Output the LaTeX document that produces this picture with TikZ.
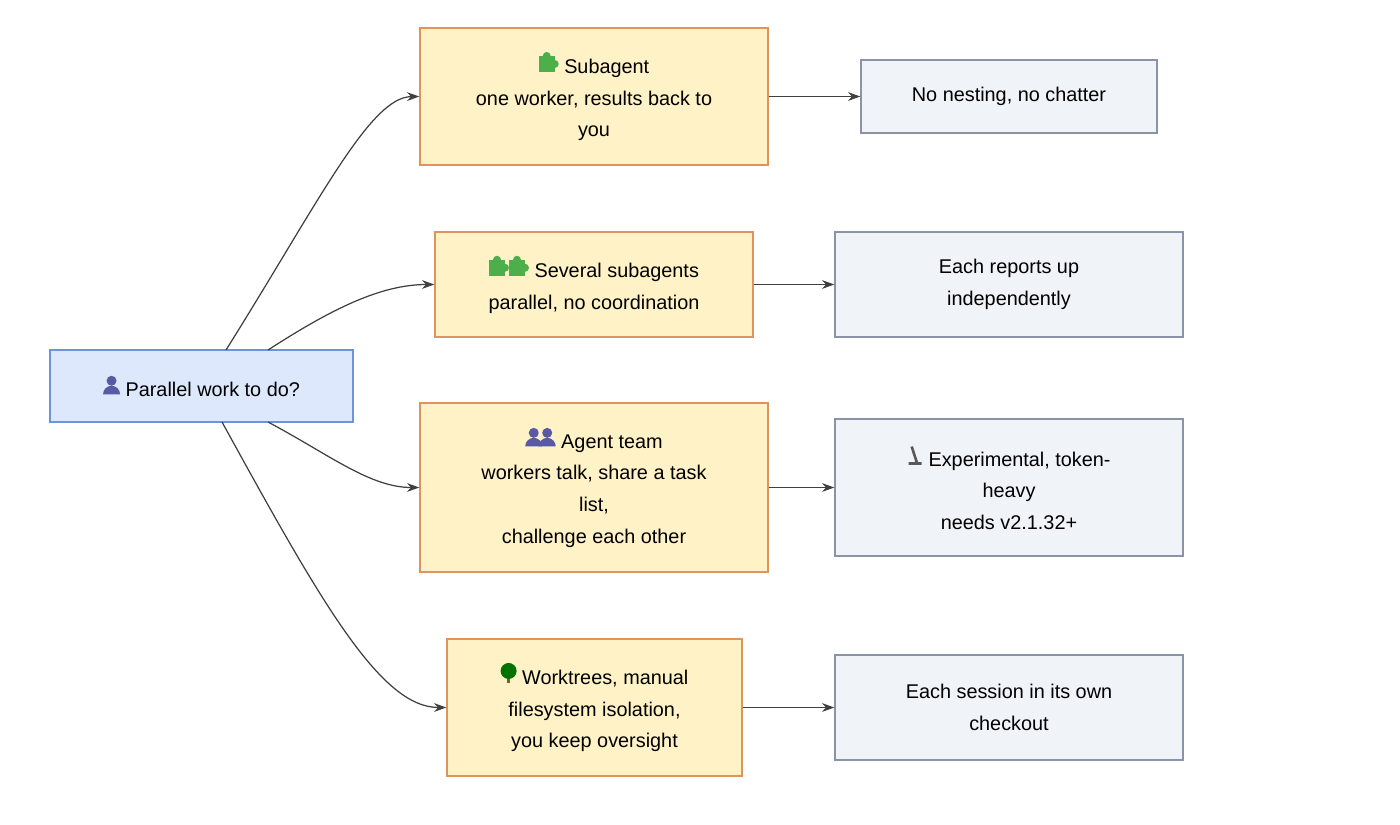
\documentclass[tikz,border=0pt]{standalone}
\usepackage{fontspec}
\setmainfont{Liberation Sans}
\usetikzlibrary{arrows.meta}

% small icons standing in for the emoji
\tikzset{icon/.style={x=1cm, y=1cm, baseline=-1pt}}
\newcommand{\pzl}{\tikz[icon]{\fill[green!55!black!70] (0,0) rectangle (0.32,0.32);
  \fill[green!55!black!70] (0.16,0.32) circle (0.08); \fill[green!55!black!70] (0.32,0.16) circle (0.08);}}
\newcommand{\usr}{\tikz[icon]{\fill[gray!70!blue] (0.17,0.27) circle (0.1);
  \fill[gray!70!blue] (0,0) arc (180:0:0.17) -- cycle;}}
\newcommand{\usrs}{\usr\hspace{-2pt}\usr}
\newcommand{\scp}{\tikz[icon]{\draw[gray!70!black,line width=1.5pt] (0.06,0.02) -- (0.32,0.02) (0.22,0.05) -- (0.12,0.36);}}
\newcommand{\tre}{\tikz[icon]{\fill[brown!70!black] (0.15,0) rectangle (0.21,0.15);
  \fill[green!45!black] (0.18,0.24) circle (0.16);}}

\definecolor{boxA}{HTML}{FFF2C7}
\definecolor{lineA}{HTML}{E0935A}
\definecolor{boxB}{HTML}{DDE8FC}
\definecolor{lineB}{HTML}{6E93DC}
\definecolor{boxC}{HTML}{F0F3F8}
\definecolor{lineC}{HTML}{8A94A6}

\begin{document}
\begin{tikzpicture}[x=0.02cm,y=-0.02cm,
    font=\fontsize{11.3}{18}\selectfont,
    base/.style={draw, line width=0.8pt, align=center, inner sep=0pt},
    choice/.style={base, fill=boxA, draw=lineA},
    start/.style={base, fill=boxB, draw=lineB},
    result/.style={base, fill=boxC, draw=lineC},
    link/.style={draw=black!75, line width=0.7pt, -{Stealth[length=7pt,width=5pt]}}]

  \useasboundingbox (0,0) rectangle (1400,825);

  % start
  \node[start, minimum width=303*0.02cm, minimum height=72*0.02cm] (ask) at (201.5,386) {\usr\ Parallel work to do?};

  % options
  \node[choice, minimum width=348*0.02cm, minimum height=137*0.02cm] (sub) at (594,96.5)
    {\pzl\ Subagent\\one worker, results back to\\you};
  \node[choice, minimum width=318*0.02cm, minimum height=105*0.02cm] (many) at (594,284.5)
    {\pzl\pzl\ Several subagents\\parallel, no coordination};
  \node[choice, minimum width=348*0.02cm, minimum height=169*0.02cm] (team) at (594,487.5)
    {\usrs\ Agent team\\workers talk, share a task\\list,\\challenge each other};
  \node[choice, minimum width=295*0.02cm, minimum height=137*0.02cm] (tree) at (594.5,707.5)
    {\tre\ Worktrees, manual\\filesystem isolation,\\you keep oversight};

  % outcomes
  \node[result, minimum width=296*0.02cm, minimum height=73*0.02cm] (nonest) at (1009,96.5) {No nesting, no chatter};
  \node[result, minimum width=348*0.02cm, minimum height=105*0.02cm] (report) at (1009,284.5) {Each reports up\\independently};
  \node[result, minimum width=348*0.02cm, minimum height=137*0.02cm] (exp) at (1009,487.5)
    {\scp\ Experimental, token-\\heavy\\needs v2.1.32+};
  \node[result, minimum width=348*0.02cm, minimum height=105*0.02cm] (sess) at (1009,707.5) {Each session in its own\\checkout};

  % connectors
  \coordinate (ask1) at (226,350);
  \coordinate (ask2) at (268,350);
  \coordinate (ask3) at (268,422);
  \coordinate (ask4) at (222,422);
  \draw[link] (ask1) .. controls (320,200) and (370,97) .. (sub.west);
  \draw[link] (ask2) .. controls (330,310) and (380,284.5) .. (many.west);
  \draw[link] (ask3) .. controls (330,455) and (370,487.5) .. (team.west);
  \draw[link] (ask4) .. controls (320,600) and (380,707.5) .. (tree.west);
  \draw[link] (sub) -- (nonest);
  \draw[link] (many) -- (report);
  \draw[link] (team) -- (exp);
  \draw[link] (tree) -- (sess);
\end{tikzpicture}
\end{document}
